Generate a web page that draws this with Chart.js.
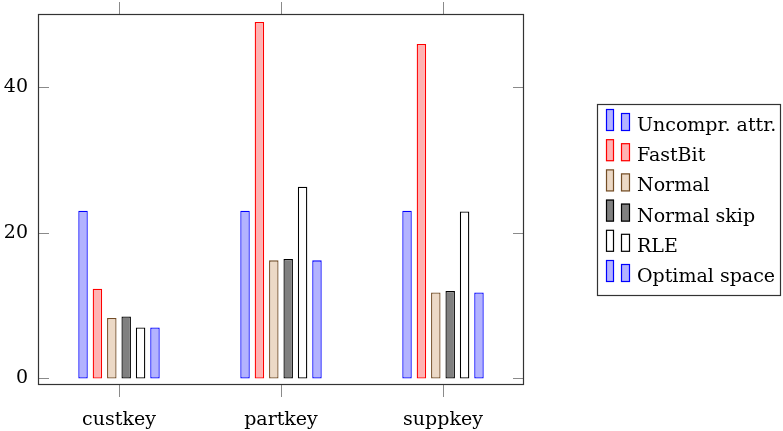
<!DOCTYPE html>
<html><head><meta charset="utf-8">
<script src="https://cdn.jsdelivr.net/npm/chart.js@4"></script>
<style>html,body{margin:0;padding:0;background:#fff}</style>
</head><body>
<canvas id="c" width="783" height="431"></canvas>
<script>
const categories = ['custkey', 'partkey', 'suppkey'];
const seriesNames = ['Uncompr. attr.', 'FastBit', 'Normal', 'Normal skip', 'RLE', 'Optimal space'];
const uncomprAttr = [23, 23, 23];
const fastBit = [12.3, 48.9, 45.9];
const normal = [8.3, 16.2, 11.8];
const normalSkip = [8.5, 16.4, 12.0];
const rle = [7.0, 26.3, 22.9];
const optimalSpace = [7.0, 16.2, 11.8];
const yTicks = [0, 20, 40];

const FONT = "'DejaVu Serif', serif";
const styles = [
  {bg: '#b3b3ff', bd: '#0000ff'},
  {bg: '#ffb3b3', bd: '#ff0000'},
  {bg: '#ecd9c6', bd: '#734d26'},
  {bg: '#808080', bd: '#000000'},
  {bg: '#ffffff', bd: '#000000'},
  {bg: '#b3b3ff', bd: '#0000ff'}
];
const seriesData = [uncomprAttr, fastBit, normal, normalSkip, rle, optimalSpace];

const framePlugin = {
  id: 'frame',
  afterDraw(chart) {
    const {ctx, chartArea: a, scales: {x, y}} = chart;
    ctx.save();
    ctx.strokeStyle = '#8a8a8a';
    ctx.lineWidth = 1;
    ctx.beginPath();
    yTicks.forEach(v => {
      const py = Math.round(y.getPixelForValue(v)) + 0.5;
      ctx.moveTo(a.left, py); ctx.lineTo(a.left + 11, py);
      ctx.moveTo(a.right - 11, py); ctx.lineTo(a.right, py);
    });
    categories.forEach((c, i) => {
      const px = Math.round(x.getPixelForValue(i)) + 0.5;
      ctx.moveTo(px, a.top - 12); ctx.lineTo(px, a.top);
      ctx.moveTo(px, a.bottom); ctx.lineTo(px, a.bottom + 12);
    });
    ctx.stroke();
    ctx.strokeStyle = '#333333';
    ctx.lineWidth = 1.2;
    ctx.strokeRect(a.left + 0.5, a.top + 0.5, a.right - a.left - 1, a.bottom - a.top - 1);
    ctx.restore();
  }
};

const legendPlugin = {
  id: 'customLegend',
  afterDraw(chart) {
    const ctx = chart.ctx;
    ctx.save();
    ctx.strokeStyle = '#333333';
    ctx.lineWidth = 1.2;
    ctx.strokeRect(597.5, 104.5, 183, 191);
    ctx.font = '19px ' + FONT;
    ctx.textBaseline = 'alphabetic';
    ctx.textAlign = 'left';
    chart.data.datasets.forEach((ds, i) => {
      const base = 131 + i * 30.2;
      ctx.fillStyle = ds.backgroundColor;
      ctx.strokeStyle = ds.borderColor;
      ctx.lineWidth = 1.2;
      ctx.fillRect(606, base - 22, 8, 22);
      ctx.strokeRect(606.5, base - 21.5, 7, 21);
      ctx.fillRect(621, base - 18, 9, 18);
      ctx.strokeRect(621.5, base - 17.5, 8, 17);
      ctx.fillStyle = '#000';
      ctx.fillText(ds.label, 637, base);
    });
    ctx.restore();
  }
};

new Chart(document.getElementById('c'), {
  type: 'bar',
  data: {
    labels: categories,
    datasets: seriesNames.map((n, i) => ({
      label: n,
      data: seriesData[i],
      backgroundColor: styles[i].bg,
      borderColor: styles[i].bd,
      borderWidth: 1.3,
      borderSkipped: false,
      categoryPercentage: 0.533,
      barPercentage: 0.66
    }))
  },
  options: {
    responsive: false,
    animation: false,
    devicePixelRatio: 1,
    layout: {padding: {left: 0, top: 14, right: 259, bottom: 0}},
    plugins: {legend: {display: false}, tooltip: {enabled: false}},
    scales: {
      x: {
        type: 'category',
        offset: true,
        grid: {display: false, drawTicks: false},
        border: {display: false},
        ticks: {font: {family: FONT, size: 19}, color: '#000', padding: 24, maxRotation: 0},
        afterFit(s) { s.height = 46; s.paddingLeft = 0; s.paddingRight = 0; }
      },
      y: {
        min: -0.9,
        max: 50,
        grid: {display: false, drawTicks: false},
        border: {display: false},
        ticks: {font: {family: FONT, size: 19}, color: '#000', padding: 10},
        afterBuildTicks(s) { s.ticks = yTicks.map(v => ({value: v})); },
        afterFit(s) { s.width = 38; s.paddingTop = 0; s.paddingBottom = 0; }
      }
    }
  },
  plugins: [framePlugin, legendPlugin]
});
</script>
</body></html>
